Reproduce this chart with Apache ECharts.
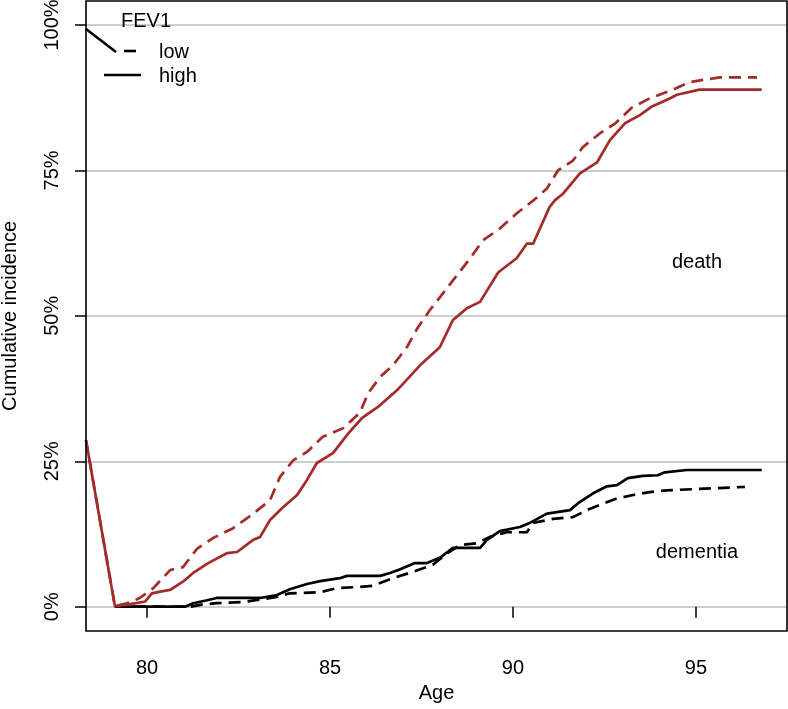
<!DOCTYPE html>
<html>
<head>
<meta charset="utf-8">
<script src="https://cdn.jsdelivr.net/npm/echarts@6/dist/echarts.min.js"></script>
<style>
html,body{margin:0;padding:0;background:#fff;}
#main{width:788px;height:709px;}
</style>
</head>
<body>
<div id="main"></div>
<script>
// x ticks and y ticks
var xTicks = [80, 85, 90, 95];
var yTicks = [0, 25, 50, 75, 100];

// death, FEV1 high (solid red)
var deathHigh = [[78.33,28.6],[79.12,0.1],[79.5,0.4],[79.95,0.9],[80.13,2.3],[80.36,2.6],[80.63,2.9],[80.98,4.3],[81.26,5.8],[81.67,7.5],[82.18,9.2],[82.46,9.4],[82.9,11.5],[83.09,12],[83.36,14.9],[83.7,17],[84.1,19.2],[84.37,21.8],[84.64,24.7],[85.08,26.4],[85.5,29.8],[85.87,32.4],[86.3,34.3],[86.83,37.2],[87.46,41.5],[88.0,44.6],[88.36,49.3],[88.74,51.3],[89.1,52.4],[89.6,57.5],[90.1,59.9],[90.38,62.4],[90.55,62.4],[91.0,68.7],[91.15,69.9],[91.37,71],[91.83,74.5],[92.3,76.4],[92.65,80.2],[93.06,83.1],[93.47,84.5],[93.8,86],[94.3,87.4],[94.48,88],[95.1,88.9],[96.8,88.9]];

// death, FEV1 low (dashed red)
var deathLow = [[78.33,28.6],[79.12,0.1],[79.45,0.6],[79.8,1.5],[80.17,3.2],[80.63,6.3],[80.98,6.8],[81.37,10],[81.8,11.8],[82.35,13.5],[82.9,16],[83.36,18.3],[83.63,22.3],[84.0,25.2],[84.37,26.6],[84.8,29.2],[85.36,30.7],[85.82,33.4],[86.04,36.7],[86.37,39.5],[86.72,41.5],[87.1,44.6],[87.38,47.8],[87.73,51],[88.09,53.9],[88.47,57],[88.83,59.9],[89.18,63],[89.64,65],[90.1,67.6],[90.55,69.8],[90.93,71.9],[91.23,75],[91.64,76.7],[91.91,79],[92.38,81.4],[92.8,83.1],[93.25,85.8],[93.74,87.4],[94.34,88.8],[94.84,90.2],[95.33,90.7],[95.66,91],[96.67,91]];

// dementia, FEV1 high (solid black)
var dementiaHigh = [[79.12,0],[81.04,0],[81.26,0.6],[81.64,1.1],[81.9,1.5],[83.09,1.5],[83.55,2],[83.9,3],[84.37,3.9],[84.73,4.4],[85.27,4.9],[85.46,5.3],[86.37,5.3],[86.64,5.8],[86.9,6.4],[87.32,7.5],[87.65,7.5],[88.0,8.4],[88.36,10.1],[89.1,10.1],[89.29,11.5],[89.64,13],[90.19,13.7],[90.46,14.4],[90.93,16],[91.56,16.6],[91.78,17.8],[92.19,19.5],[92.57,20.7],[92.84,20.9],[93.14,22.1],[93.55,22.5],[93.96,22.6],[94.15,23.1],[94.75,23.5],[96.8,23.5]];

// dementia, FEV1 low (dashed black)
var dementiaLow = [[79.12,0],[81.2,0],[81.53,0.4],[81.9,0.6],[82.62,0.8],[83.17,1.3],[83.55,1.7],[83.9,2.3],[84.73,2.5],[85.2,3.2],[85.82,3.4],[86.17,3.6],[86.72,4.9],[87.27,6],[87.81,7.2],[88.2,9.2],[88.55,10.6],[89.0,10.9],[89.37,12],[89.83,12.8],[90.38,12.8],[90.55,14.4],[91.1,15.1],[91.64,15.4],[92.02,16.6],[92.38,17.5],[92.84,18.6],[93.28,19.2],[93.74,19.7],[94.2,20],[94.92,20.2],[96.34,20.6]];

var RED = '#a52a2a';
var FONT = 'Liberation Sans, Arial, Helvetica, sans-serif';
var FS = 20;

function lineSeries(name, data, color, dashed, z) {
  return {
    name: name,
    type: 'line',
    data: data,
    showSymbol: false,
    symbol: 'none',
    clip: false,
    animation: false,
    lineStyle: { color: color, width: 2.7, type: dashed ? [12, 7] : 'solid', cap: 'butt', join: 'round' },
    z: z
  };
}

var chart = echarts.init(document.getElementById('main'), null, { renderer: 'canvas' });
chart.setOption({
  backgroundColor: '#fff',
  animation: false,
  textStyle: { fontFamily: FONT },
  grid: { left: 86, right: 1, top: 25, bottom: 102.3, containLabel: false, outerBoundsMode: 'none' },
  xAxis: {
    type: 'value',
    min: 78.33,
    max: 97.49,
    offset: 24.3,
    name: 'Age',
    nameLocation: 'middle',
    nameGap: 52,
    nameTextStyle: { color: '#000', fontSize: FS, fontFamily: FONT },
    axisLine: { show: false },
    axisTick: { show: true, customValues: xTicks, length: 11, lineStyle: { color: '#000', width: 1.5 } },
    axisLabel: { customValues: xTicks, color: '#000', fontSize: FS, fontFamily: FONT, margin: 27 },
    splitLine: { show: false }
  },
  yAxis: {
    type: 'value',
    min: 0,
    max: 100,
    interval: 25,
    name: 'Cumulative incidence',
    nameLocation: 'middle',
    nameRotate: 90,
    nameGap: 66,
    nameTextStyle: { color: '#000', fontSize: FS, fontFamily: FONT },
    axisLine: { show: false },
    axisTick: { show: true, length: 11, lineStyle: { color: '#000', width: 1.5 } },
    axisLabel: { rotate: 90, color: '#000', fontSize: FS, fontFamily: FONT, margin: 24,
      formatter: function (v) { return v + '%'; } },
    splitLine: { show: true, lineStyle: { color: '#bebebe', width: 1.5 } }
  },
  series: [
    lineSeries('dementia low', dementiaLow, '#000', true, 3),
    lineSeries('dementia high', dementiaHigh, '#000', false, 3),
    lineSeries('death low', deathLow, RED, true, 4),
    lineSeries('death high', deathHigh, RED, false, 5)
  ],
  graphic: [
    { type: 'rect', silent: true, z: 10,
      shape: { x: 86, y: 1, width: 701, height: 630 },
      style: { fill: 'none', stroke: '#000', lineWidth: 1.6 } },
    { type: 'text', z: 11, style: { text: 'FEV1', x: 121, y: 21, fill: '#000', font: FS + 'px ' + FONT, textAlign: 'left', textVerticalAlign: 'middle' } },
    { type: 'line', z: 11, shape: { x1: 86, y1: 29, x2: 116, y2: 52 }, style: { stroke: '#000', lineWidth: 2.6 } },
    { type: 'line', z: 11, shape: { x1: 124, y1: 51, x2: 136, y2: 51 }, style: { stroke: '#000', lineWidth: 2.6 } },
    { type: 'text', z: 11, style: { text: 'low', x: 159, y: 52, fill: '#000', font: FS + 'px ' + FONT, textAlign: 'left', textVerticalAlign: 'middle' } },
    { type: 'line', z: 11, shape: { x1: 104, y1: 75, x2: 141, y2: 75 }, style: { stroke: '#000', lineWidth: 2.6 } },
    { type: 'text', z: 11, style: { text: 'high', x: 159, y: 76, fill: '#000', font: FS + 'px ' + FONT, textAlign: 'left', textVerticalAlign: 'middle' } },
    { type: 'text', z: 11, style: { text: 'death', x: 697, y: 262, fill: '#000', font: FS + 'px ' + FONT, textAlign: 'center', textVerticalAlign: 'middle' } },
    { type: 'text', z: 11, style: { text: 'dementia', x: 697, y: 552, fill: '#000', font: FS + 'px ' + FONT, textAlign: 'center', textVerticalAlign: 'middle' } }
  ]
});
</script>
</body>
</html>
